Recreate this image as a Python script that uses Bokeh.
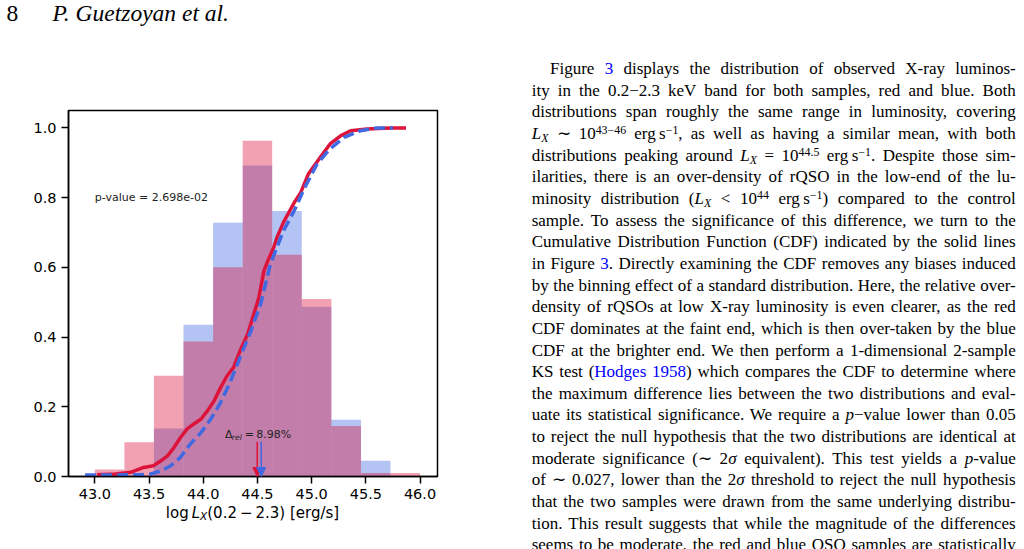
from bokeh.plotting import figure
from bokeh.models import Range1d, FixedTicker, Label, Arrow, NormalHead, Div, NumeralTickFormatter
from bokeh.layouts import row, column
from bokeh.embed import file_html
from bokeh.resources import INLINE

# ---------------- data ----------------
bin_edges = [43.0, 43.273, 43.545, 43.818, 44.091, 44.364, 44.636, 44.909, 45.182, 45.455, 45.727, 46.0]
red_density = [0.020, 0.098, 0.289, 0.387, 0.600, 0.963, 0.636, 0.509, 0.145, 0.010, 0.010]
blue_density = [0.0, 0.0, 0.138, 0.435, 0.728, 0.892, 0.762, 0.487, 0.163, 0.045, 0.0]

red_cdf_x = [43.02, 43.19, 43.33, 43.45, 43.54, 43.61, 43.67, 43.73, 43.79, 43.85, 43.91, 43.98,
             44.04, 44.10, 44.16, 44.22, 44.28, 44.34, 44.41, 44.47, 44.51, 44.56, 44.60, 44.65,
             44.68, 44.74, 44.84, 44.90, 44.97, 45.08, 45.17, 45.27, 45.36, 45.51, 45.73, 45.87]
red_cdf_y = [0.005, 0.007, 0.012, 0.026, 0.031, 0.045, 0.059, 0.083, 0.112, 0.136, 0.150, 0.165,
             0.189, 0.217, 0.255, 0.289, 0.313, 0.361, 0.409, 0.470, 0.510, 0.590, 0.622, 0.657,
             0.686, 0.729, 0.786, 0.815, 0.868, 0.916, 0.954, 0.978, 0.992, 0.997, 1.0, 1.0]

blue_cdf_x = [42.91, 43.42, 43.51, 43.61, 43.70, 43.79, 43.88, 43.98, 44.07, 44.16, 44.25, 44.34,
              44.44, 44.53, 44.62, 44.74, 44.84, 44.93, 45.05, 45.17, 45.30, 45.45, 45.60, 45.75]
blue_cdf_y = [0.004, 0.005, 0.007, 0.016, 0.031, 0.055, 0.093, 0.126, 0.165, 0.212, 0.272, 0.342,
              0.418, 0.495, 0.610, 0.705, 0.763, 0.825, 0.897, 0.940, 0.973, 0.992, 1.0, 1.0]

red_median = 44.498
blue_median = 44.535
p_value_text = "p-value = 2.698e-02"
delta_rel_text = "8.98%"

x_ticks = [43.0, 43.5, 44.0, 44.5, 45.0, 45.5, 46.0]
x_tick_labels = ["43.0", "43.5", "44.0", "44.5", "45.0", "45.5", "46.0"]
y_ticks = [0.0, 0.2, 0.4, 0.6, 0.8, 1.0]
y_tick_labels = ["0.0", "0.2", "0.4", "0.6", "0.8", "1.0"]

header_number = "8"
header_authors = "P. Guetzoyan et al."

# ---------------- layout constants ----------------
X_MIN, X_MAX = 42.757, 46.161
Y_MIN, Y_MAX = 0.0, 1.05
LEFT_W = 510
HEADER_H = 40
XLABEL_H = 43
FIG_H = 549 - HEADER_H - XLABEL_H
B_LEFT, B_RIGHT, B_TOP, B_BOTTOM = 68, 73, 70, 30
FRAME_H = FIG_H - B_TOP - B_BOTTOM
PPU = FRAME_H / (Y_MAX - Y_MIN)  # pixels per y unit

RED = "crimson"
BLUE = "royalblue"
CHART_FONT = "DejaVu Sans"

p = figure(width=LEFT_W, height=FIG_H, x_range=Range1d(X_MIN, X_MAX), y_range=Range1d(Y_MIN, Y_MAX),
           output_backend="svg", toolbar_location=None,
           min_border_left=B_LEFT, min_border_right=B_RIGHT,
           min_border_top=B_TOP, min_border_bottom=B_BOTTOM)
p.grid.visible = False
p.background_fill_color = "white"
p.border_fill_color = "white"
p.outline_line_color = "black"
p.outline_line_width = 1.5
p.outline_line_alpha = 1.0

# histograms (blue first, red on top)
p.quad(left=bin_edges[:-1], right=bin_edges[1:], bottom=0, top=blue_density,
       fill_color=BLUE, fill_alpha=0.4, line_color=None)
p.quad(left=bin_edges[:-1], right=bin_edges[1:], bottom=0, top=red_density,
       fill_color=RED, fill_alpha=0.4, line_color=None)

# CDFs
p.line(red_cdf_x, red_cdf_y, line_color=RED, line_width=3.5, line_join="round")
p.line(blue_cdf_x, blue_cdf_y, line_color=BLUE, line_width=3.5, line_dash="11 5")

# arrows at medians
for xm, c in ((red_median, RED), (blue_median, BLUE)):
    p.add_layout(Arrow(end=NormalHead(size=9, fill_color=c, line_color=c, line_width=1),
                       x_start=xm, y_start=0.1, x_end=xm, y_end=0.0,
                       line_color=c, line_width=1.5))

# axes
for ax, ticks, labels in ((p.xaxis, x_ticks, x_tick_labels), (p.yaxis, y_ticks, y_tick_labels)):
    ax.ticker = FixedTicker(ticks=ticks)
    ax.formatter = NumeralTickFormatter(format="0.0")
    ax.major_label_overrides = dict(zip(ticks, labels))
    ax.major_label_text_font = CHART_FONT
    ax.major_label_text_font_size = "14.5px"
    ax.major_label_text_color = "black"
    ax.axis_line_color = "black"
    ax.axis_line_width = 1.5
    ax.major_tick_line_color = "black"
    ax.major_tick_line_width = 1.5
    ax.major_tick_out = 7
    ax.major_tick_in = 0
    ax.minor_tick_out = 0
    ax.minor_tick_in = 0
    ax.major_label_standoff = 5

# p-value annotation
p.add_layout(Label(x=43.0, y=0.8, text=p_value_text, text_font=CHART_FONT, text_font_size="11px",
                   text_color="#222222", text_align="left", text_baseline="alphabetic"))

# Delta_rel annotation
d_y = 0.12
for txt, dx, size, style, yy in (("Δ", -32.3, "11px", "normal", d_y),
                                 ("rel", -25.4, "7.7px", "italic", d_y - 2.5 / PPU),
                                 ("=", -12.6, "11px", "normal", d_y),
                                 (delta_rel_text, -0.9, "11px", "normal", d_y)):
    p.add_layout(Label(x=red_median, y=yy, x_offset=dx, text=txt, text_font=CHART_FONT,
                       text_font_size=size, text_font_style=style, text_color="#222222",
                       text_align="left", text_baseline="alphabetic"))

# x-axis label (rich text) below the figure
xlabel_html = (
    '<div style="font-family:\'DejaVu Sans\',sans-serif;font-size:15px;line-height:15px;width:505px;'
    'text-align:center;color:#000;white-space:nowrap;margin:0;padding:0;">'
    'log&#8201;<i>L<span style="font-size:0.7em;vertical-align:-0.22em;line-height:0">X</span></i>'
    '(0.2&#8201;\u2212&#8201;2.3) [erg/s]</div>'
)
xlabel = Div(text=xlabel_html, width=LEFT_W, height=XLABEL_H, margin=(0, 0, 0, 0))

# ---------------- page texts ----------------
header_html = (
    '<div style="font-family:\'Liberation Serif\',serif;font-size:23.5px;line-height:24px;'
    'padding-top:1.2px;padding-left:6.5px;color:#000;white-space:nowrap;margin:0;">'
    f'<span style="display:inline-block;width:46px">{header_number}</span><i>{header_authors}</i></div>'
)
header = Div(text=header_html, width=LEFT_W, height=HEADER_H, margin=(0, 0, 0, 0))

SUP = '<span style="font-size:0.7em;vertical-align:0.45em;line-height:0">{}</span>'
SUB = '<span style="font-size:0.7em;vertical-align:-0.25em;line-height:0">{}</span>'
LX = '<i>L' + SUB.format('X') + '</i>'
BL = '<span style="color:#0000ff">{}</span>'
ERG = 'erg&#8201;s' + SUP.format('\u22121')

para_lines = [
    'Figure ' + BL.format('3') + ' displays the distribution of observed X-ray luminos-',
    'ity in the 0.2\u22122.3 keV band for both samples, red and blue. Both',
    'distributions span roughly the same range in luminosity, covering',
    LX + ' \u223c 10' + SUP.format('43\u221246') + ' ' + ERG + ', as well as having a similar mean, with both',
    'distributions peaking around ' + LX + ' = 10' + SUP.format('44.5') + ' ' + ERG + '. Despite those sim-',
    'ilarities, there is an over-density of rQSO in the low-end of the lu-',
    'minosity distribution (' + LX + ' &lt; 10' + SUP.format('44') + ' ' + ERG + ') compared to the control',
    'sample. To assess the significance of this difference, we turn to the',
    'Cumulative Distribution Function (CDF) indicated by the solid lines',
    'in Figure ' + BL.format('3') + '. Directly examining the CDF removes any biases induced',
    'by the binning effect of a standard distribution. Here, the relative over-',
    'density of rQSOs at low X-ray luminosity is even clearer, as the red',
    'CDF dominates at the faint end, which is then over-taken by the blue',
    'CDF at the brighter end. We then perform a 1-dimensional 2-sample',
    'KS test (' + BL.format('Hodges 1958') + ') which compares the CDF to determine where',
    'the maximum difference lies between the two distributions and eval-',
    'uate its statistical significance. We require a <i>p</i>\u2212value lower than 0.05',
    'to reject the null hypothesis that the two distributions are identical at',
    'moderate significance (\u223c 2<i>\u03c3</i> equivalent). This test yields a <i>p</i>-value',
    'of \u223c 0.027, lower than the 2<i>\u03c3</i> threshold to reject the null hypothesis',
    'that the two samples were drawn from the same underlying distribu-',
    'tion. This result suggests that while the magnitude of the differences',
    'seems to be moderate, the red and blue QSO samples are statistically',
]

PITCH = 21.65
line_divs = []
for i, ln in enumerate(para_lines):
    extra = 'text-indent:18.3px;' if i == 0 else ''
    if i == 10:
        extra += 'word-spacing:-1px;'
    line_divs.append(
        f'<div style="height:{PITCH}px;line-height:{PITCH}px;text-align:justify;'
        f'text-align-last:justify;{extra}">{ln}</div>')

para_html = (
    '<div style="font-family:\'Liberation Serif\',serif;font-size:17px;color:#000;'
    'padding-top:58.2px;padding-left:21.7px;width:484px;height:549px;overflow:hidden;'
    'box-sizing:content-box;margin:0;">' + ''.join(line_divs) + '</div>'
)
para = Div(text=para_html, width=1024 - LEFT_W, height=549, margin=(0, 0, 0, 0))

layout = row(column(header, p, xlabel, spacing=0), para, spacing=0)

open("out.html", "w").write(file_html(layout, INLINE))
